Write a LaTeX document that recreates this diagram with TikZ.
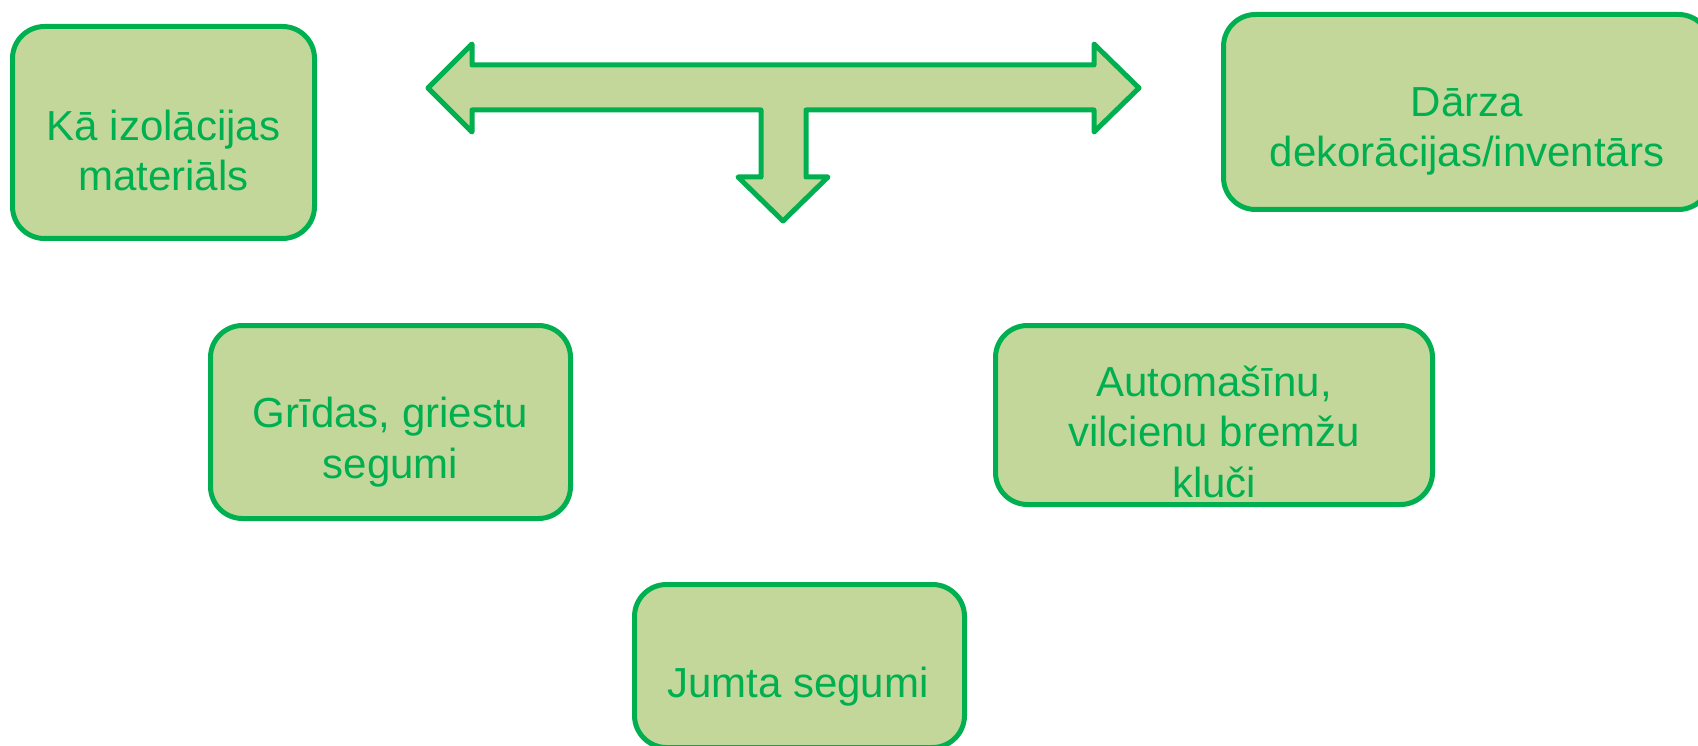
\documentclass[tikz,border=0pt]{standalone}
\usepackage{fontspec}
\setmainfont{Liberation Sans}
\definecolor{lineg}{RGB}{0,176,80}
\definecolor{fillg}{RGB}{196,215,155}
\begin{document}
\begin{tikzpicture}[x=1pt,y=-1pt,
  box/.style={draw=lineg, fill=fillg, line width=5pt, rounded corners=32pt, outer sep=0pt, inner sep=0pt},
  txt/.style={text=lineg, align=center, inner sep=0pt, font=\fontsize{42}{50.4}\selectfont},
  blockarrow/.style={draw=lineg, fill=fillg, line width=5pt, line join=round}]
\useasboundingbox (0,0) rectangle (1698,746);
% boxes
\node[box, minimum width=302pt, minimum height=212pt] (b1) at (163.5,132.5) {};
\node[box, minimum width=487pt, minimum height=195pt] (b2) at (1467,112) {};
\node[box, minimum width=360pt, minimum height=193pt] (b3) at (390.5,422) {};
\node[box, minimum width=437pt, minimum height=179pt] (b4) at (1214,415) {};
\node[box, minimum width=330pt, minimum height=163pt] (b5) at (799.5,666) {};
% texts (base anchor = baseline of the last line)
\node[txt, anchor=base] (t1) at (163.5,191) {Kā izolācijas\\materiāls};
\node[txt, anchor=base] (t2) at (1467,167) {Dārza\\dekorācijas/inventārs};
\node[txt, anchor=base] (t3) at (390.5,478) {Grīdas, griestu\\segumi};
\node[txt, anchor=base] (t4) at (1214,497) {Automašīnu,\\vilcienu bremžu\\kluči};
\node[txt, anchor=base] (t5) at (798,697) {Jumta segumi};
% block arrow
\draw[blockarrow] (428,88) -- (472,44) -- (472,65) -- (1094,65) -- (1094,44)
  -- (1139,88) -- (1094,132) -- (1094,110) -- (806,110) -- (806,177)
  -- (828,177) -- (783,221) -- (738,177) -- (761,177) -- (761,110)
  -- (472,110) -- (472,132) -- cycle;
\end{tikzpicture}
\end{document}
